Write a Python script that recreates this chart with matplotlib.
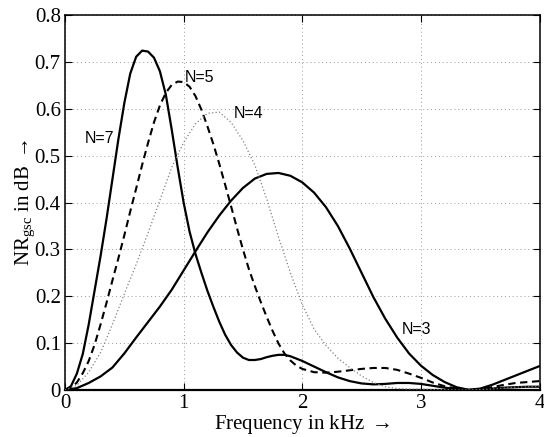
import matplotlib
matplotlib.use("Agg")
import matplotlib.pyplot as plt

plt.rcParams['font.family'] = ['Liberation Serif', 'DejaVu Serif']
plt.rcParams['mathtext.fontset'] = 'custom'
plt.rcParams['mathtext.rm'] = 'Liberation Serif'
plt.rcParams['mathtext.it'] = 'Liberation Serif:italic'
plt.rcParams['mathtext.fallback'] = 'cm'

# ---- data ----
n7_x = [0, 0.05, 0.1, 0.15, 0.2, 0.25, 0.3, 0.35, 0.4, 0.45, 0.5, 0.55, 0.6, 0.65, 0.7, 0.75, 0.8,
        0.85, 0.9, 0.95, 1.0, 1.05, 1.1, 1.15, 1.2, 1.25, 1.3, 1.35, 1.4, 1.45, 1.5, 1.55, 1.6, 1.65,
        1.7, 1.75, 1.8, 1.85, 1.9, 1.95, 2.0, 2.1, 2.2, 2.3, 2.4, 2.5, 2.6, 2.7, 2.8, 2.9, 3.0, 3.1,
        3.2, 3.3, 3.4, 3.5, 3.6, 3.7, 3.8, 3.9, 4.0]
n7_y = [0, 0.008, 0.035, 0.077, 0.14, 0.213, 0.286, 0.365, 0.45, 0.535, 0.612, 0.675, 0.711, 0.724,
        0.722, 0.709, 0.68, 0.63, 0.555, 0.475, 0.4, 0.338, 0.29, 0.25, 0.212, 0.178, 0.146, 0.118,
        0.096, 0.08, 0.069, 0.064, 0.064, 0.066, 0.07, 0.073, 0.075, 0.075, 0.072, 0.067, 0.062, 0.05,
        0.038, 0.027, 0.019, 0.014, 0.012, 0.013, 0.015, 0.015, 0.013, 0.009, 0.005, 0.002, 0.0, 0.001,
        0.003, 0.005, 0.006, 0.007, 0.007]

n3_x = [0, 0.1, 0.2, 0.3, 0.4, 0.5, 0.6, 0.7, 0.8, 0.9, 1.0, 1.1, 1.2, 1.3, 1.4, 1.5, 1.6, 1.7, 1.8,
        1.9, 2.0, 2.1, 2.2, 2.3, 2.4, 2.5, 2.6, 2.7, 2.8, 2.9, 3.0, 3.1, 3.2, 3.3, 3.4, 3.5, 3.6, 3.7,
        3.8, 3.9, 4.0]
n3_y = [0, 0.004, 0.015, 0.029, 0.048, 0.078, 0.112, 0.145, 0.178, 0.214, 0.255, 0.296, 0.336, 0.372,
        0.404, 0.431, 0.451, 0.461, 0.463, 0.457, 0.443, 0.421, 0.39, 0.35, 0.302, 0.25, 0.198, 0.152,
        0.112, 0.078, 0.052, 0.032, 0.017, 0.006, 0.0005, 0.003, 0.011, 0.021, 0.031, 0.041, 0.051]

n5_x = [0, 0.05, 0.1, 0.15, 0.2, 0.25, 0.3, 0.35, 0.4, 0.45, 0.5, 0.55, 0.6, 0.65, 0.7, 0.75, 0.8,
        0.85, 0.9, 0.95, 1.0, 1.05, 1.1, 1.15, 1.2, 1.25, 1.3, 1.35, 1.4, 1.45, 1.5, 1.55, 1.6, 1.65,
        1.7, 1.75, 1.8, 1.85, 1.9, 1.95, 2.0, 2.1, 2.2, 2.3, 2.4, 2.5, 2.6, 2.7, 2.8, 2.9, 3.0, 3.1,
        3.2, 3.3, 3.4, 3.5, 3.6, 3.7, 3.8, 3.9, 4.0]
n5_y = [0, 0.004, 0.016, 0.036, 0.062, 0.097, 0.14, 0.186, 0.234, 0.281, 0.33, 0.381, 0.43, 0.48,
        0.527, 0.571, 0.607, 0.634, 0.651, 0.658, 0.657, 0.647, 0.627, 0.598, 0.563, 0.525, 0.483,
        0.438, 0.392, 0.345, 0.3, 0.258, 0.222, 0.188, 0.156, 0.126, 0.099, 0.078, 0.063, 0.052, 0.045,
        0.038, 0.037, 0.039, 0.042, 0.045, 0.047, 0.047, 0.043, 0.035, 0.026, 0.016, 0.008, 0.003, 0.0,
        0.002, 0.006, 0.011, 0.015, 0.017, 0.019]

n4_x = [0, 0.1, 0.2, 0.3, 0.4, 0.5, 0.6, 0.7, 0.8, 0.9, 1.0, 1.1, 1.2, 1.3, 1.4, 1.5, 1.6, 1.7, 1.8,
        1.9, 2.0, 2.1, 2.2, 2.3, 2.4, 2.5, 2.6, 2.7, 2.8, 2.9, 3.0, 3.1, 3.2, 3.3, 3.4, 3.5, 3.6, 3.7,
        3.8, 3.9, 4.0]
n4_y = [0, 0.01, 0.038, 0.08, 0.14, 0.205, 0.268, 0.335, 0.405, 0.475, 0.528, 0.568, 0.59, 0.593,
        0.571, 0.532, 0.48, 0.408, 0.326, 0.25, 0.182, 0.13, 0.095, 0.068, 0.048, 0.03, 0.016, 0.007,
        0.003, 0.002, 0.002, 0.001, 0.001, 0.0, 0.0, 0.001, 0.002, 0.004, 0.006, 0.007, 0.008]

labels = ['N=7', 'N=5', 'N=4', 'N=3']
label_pos = [(0.17, 0.537), (1.01, 0.667), (1.42, 0.589), (2.84, 0.128)]

xticks = [0, 1, 2, 3, 4]
yticks = [0, 0.1, 0.2, 0.3, 0.4, 0.5, 0.6, 0.7, 0.8]
ytick_labels = ['0', '0.1', '0.2', '0.3', '0.4', '0.5', '0.6', '0.7', '0.8']

# ---- figure ----
fig = plt.figure(figsize=(5.44, 4.37), dpi=100)
ax = fig.add_axes([65 / 544, 1 - 390 / 437, (539.5 - 65) / 544, (390 - 15) / 437])

ax.plot(n3_x, n3_y, color='black', lw=1.6, solid_joinstyle='round', zorder=3)
ax.plot(n7_x, n7_y, color='black', lw=1.6, solid_joinstyle='round', zorder=3)
ax.plot(n5_x, n5_y, color='black', lw=1.5, linestyle=(0, (3.5, 2.2)), zorder=3)
ax.plot(n4_x, n4_y, color='0.5', lw=0.9, linestyle=(0, (1, 1.8)), zorder=3)

for txt, (tx, ty) in zip(labels, label_pos):
    ax.text(tx, ty, txt, family=['Liberation Sans', 'DejaVu Sans'], fontsize=11.5,
            ha='left', va='center', zorder=4)

ax.set_xlim(0, 4)
ax.set_ylim(0, 0.8)
ax.set_xticks(xticks)
ax.set_xticklabels([str(t) for t in xticks])
ax.set_yticks(yticks)
ax.set_yticklabels(ytick_labels)
ax.tick_params(direction='in', top=True, right=True, length=5, width=0.8,
               labelsize=15, pad=3)
ax.grid(True, color='0.6', linestyle=(0, (1, 3)), lw=0.7)
for s in ax.spines.values():
    s.set_linewidth(1.1)
ax.spines['bottom'].set_linewidth(1.6)

ax.set_xlabel(r'Frequency in kHz $\rightarrow$', fontsize=15, va='center')
ax.xaxis.set_label_coords(0.5, -0.093)
ax.set_ylabel(r'NR$_{\mathrm{gsc}}$ in dB $\rightarrow$', fontsize=15, va='center')
ax.yaxis.set_label_coords(-0.084, 0.5)

fig.savefig('out.png', dpi=100)
